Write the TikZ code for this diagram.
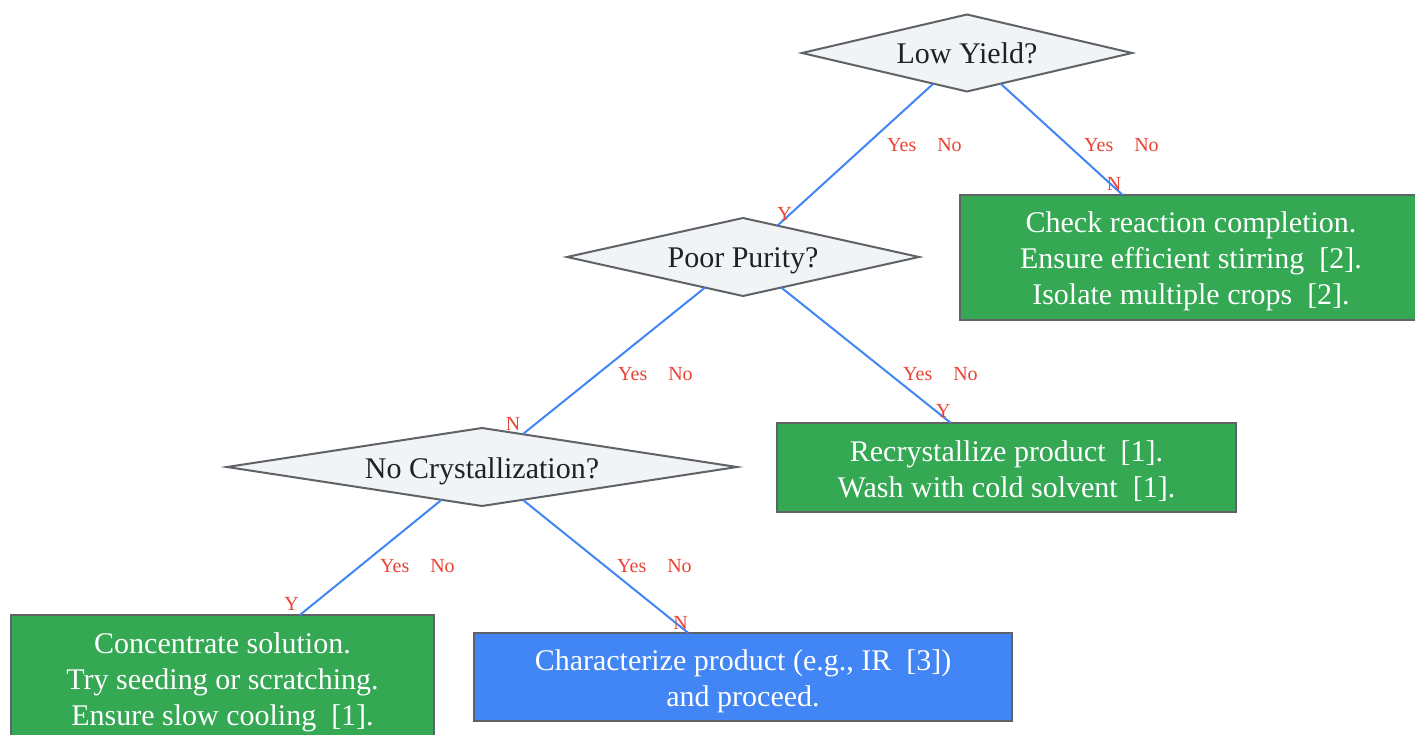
\documentclass[tikz,border=0pt]{standalone}
\usepackage{fontspec}
\setmainfont{Liberation Serif}
\usetikzlibrary{shapes.geometric}
\definecolor{dfill}{HTML}{F1F3F4}
\definecolor{dline}{HTML}{5F6368}
\definecolor{gbox}{HTML}{34A853}
\definecolor{bbox}{HTML}{4285F4}
\definecolor{lred}{HTML}{EA4335}
\definecolor{dtext}{HTML}{202124}
\newcommand{\tstrut}{\rule{0pt}{29pt}}
\begin{document}
\begin{tikzpicture}[x=1pt,y=-1pt,
 decision/.style={diamond, draw=dline, line width=2pt, fill=dfill, inner sep=0pt, outer sep=0pt, text=dtext, font=\fontsize{30}{36}\selectfont, text height=22pt, text depth=0pt},
 action/.style={rectangle, draw=dline, line width=2pt, fill=gbox, text=white, align=center, inner sep=0pt, outer sep=0pt, font=\fontsize{30}{36}\selectfont},
 finalbox/.style={action, fill=bbox},
 conn/.style={draw=bbox, line width=2pt},
 lab/.style={text=lred, font=\fontsize{20}{24}\selectfont, inner sep=0pt},
]
\useasboundingbox (0,0) rectangle (1415,735);
\fill[white] (0,0) rectangle (1415,735);
% decisions
\node[decision, minimum width=330pt, minimum height=77pt, aspect=4.3] (ly) at (967,53) {Low Yield?};
\node[decision, minimum width=352pt, minimum height=78pt, aspect=4.5] (pp) at (743,257) {Poor Purity?};
\node[decision, minimum width=510pt, minimum height=78pt, aspect=6.5] (nc) at (482,467) {No Crystallization?};
% actions
\node[action, minimum width=462pt, minimum height=125pt] (chk) at (1191,257.5) {\tstrut Check reaction completion.\\Ensure efficient stirring\ \ [2].\\Isolate multiple crops\ \ [2].};
\node[action, minimum width=459pt, minimum height=89pt] (rec) at (1006.5,467.5) {\tstrut Recrystallize product\ \ [1].\\Wash with cold solvent\ \ [1].};
\node[action, minimum width=423pt, minimum height=126pt] (con) at (222.5,678) {\tstrut Concentrate solution.\\Try seeding or scratching.\\Ensure slow cooling\ \ [1].};
\node[finalbox, minimum width=538pt, minimum height=88pt] (cha) at (743,677) {\rule{0pt}{30pt}Characterize product (e.g., IR\ \ [3])\\and proceed.};
% connectors
\draw[conn] (ly) -- (pp);
\draw[conn] (ly) -- (chk);
\draw[conn] (pp) -- (nc);
\draw[conn] (pp) -- (rec);
\draw[conn] (nc) -- (con);
\draw[conn] (nc) -- (cha);
% labels
\node[lab, anchor=base west] (l1) at (887,151.7) {Yes\hspace{21pt}No};
\node[lab, anchor=base west] (l2) at (1084,151.7) {Yes\hspace{21pt}No};
\node[lab, anchor=base west] (l3) at (618,380) {Yes\hspace{21pt}No};
\node[lab, anchor=base west] (l4) at (903,380) {Yes\hspace{21pt}No};
\node[lab, anchor=base west] (l5) at (380,572) {Yes\hspace{21pt}No};
\node[lab, anchor=base west] (l6) at (617,572) {Yes\hspace{21pt}No};
\node[lab, anchor=base] (e1) at (784.5,221) {Y};
\node[lab, anchor=base] (e2) at (1114,190.7) {N};
\node[lab, anchor=base] (e3) at (513,430.7) {N};
\node[lab, anchor=base] (e4) at (943.3,417.3) {Y};
\node[lab, anchor=base] (e5) at (291.5,610) {Y};
\node[lab, anchor=base] (e6) at (680.7,629.3) {N};
\end{tikzpicture}
\end{document}
